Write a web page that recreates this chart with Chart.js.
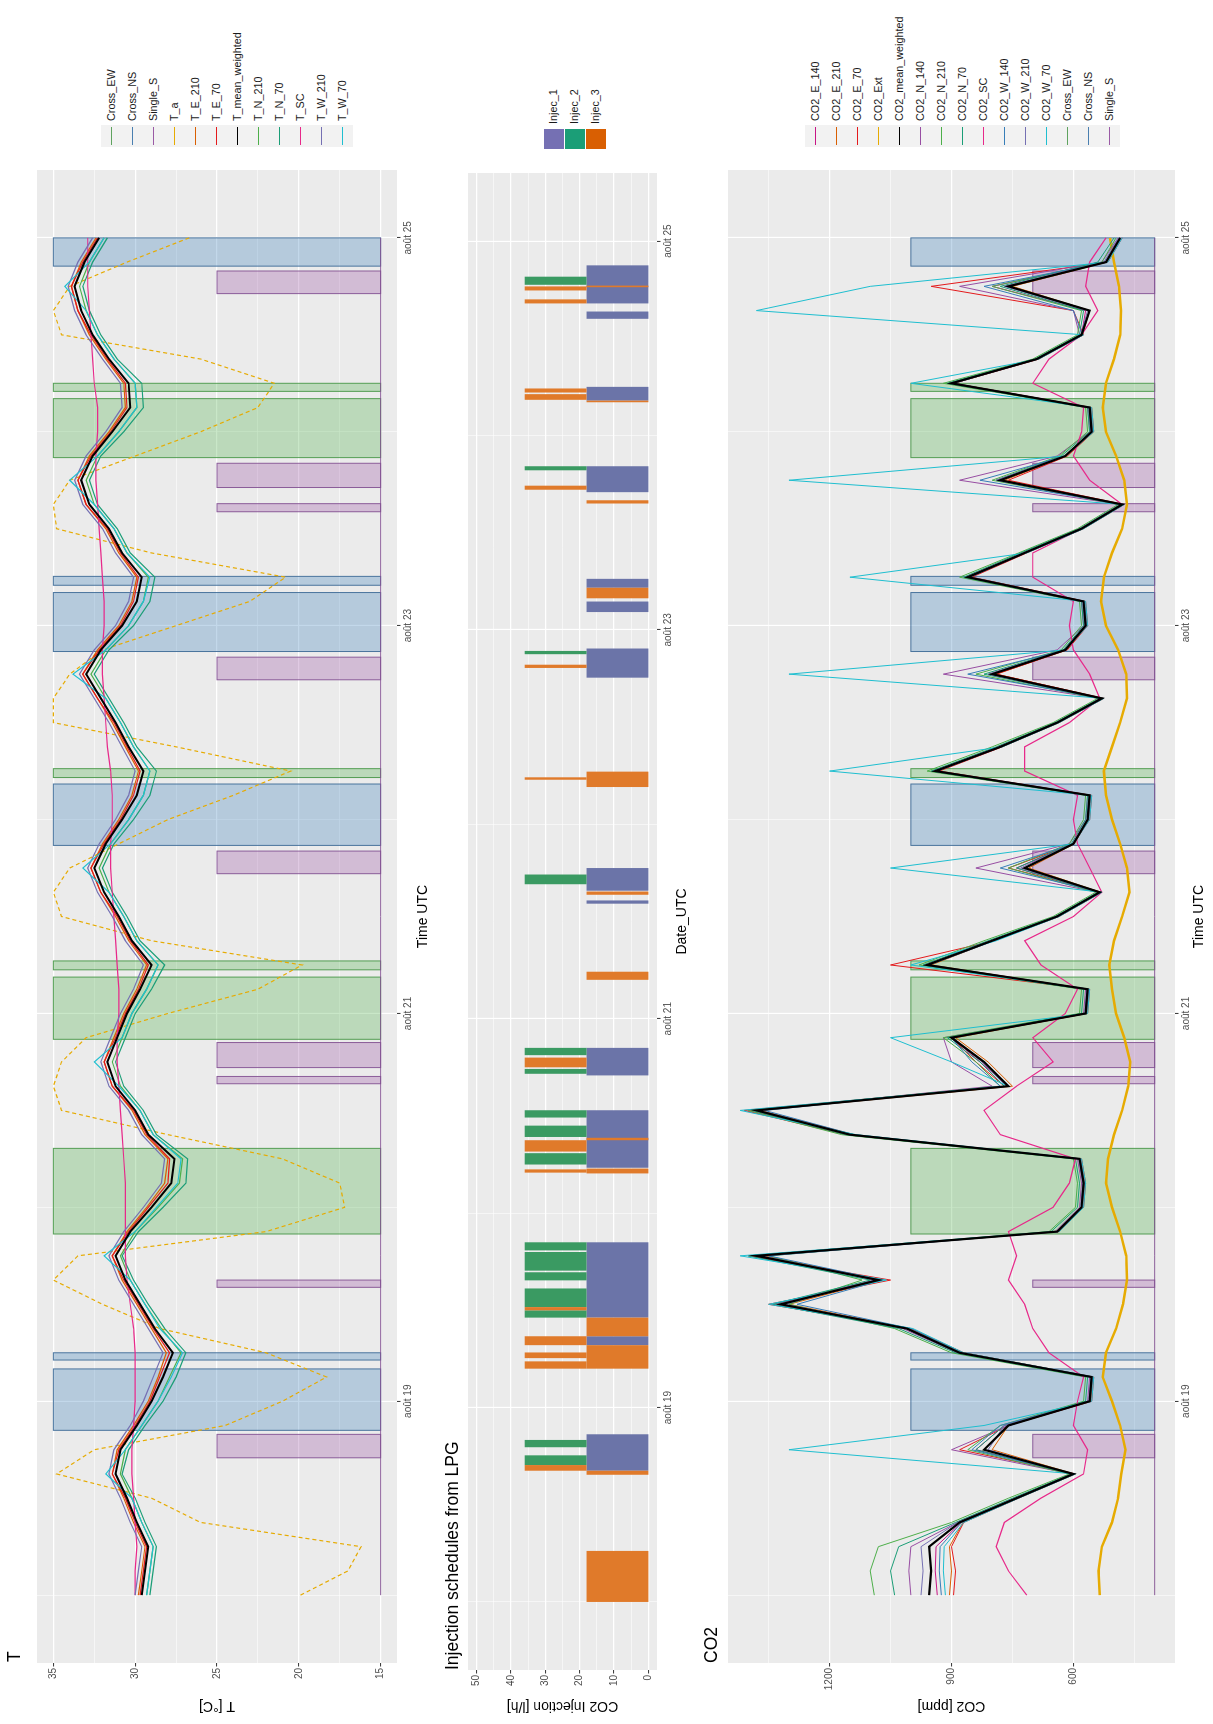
<!DOCTYPE html>
<html>
<head>
<meta charset="utf-8">
<script src="https://cdn.jsdelivr.net/npm/chart.js@4.4.0/dist/chart.umd.min.js"></script>
<style>
  html, body { margin: 0; padding: 0; background: #fff; }
  body { width: 1213px; height: 1724px; overflow: hidden; position: relative; font-family: 'Liberation Sans', Arial, sans-serif; }
  /* the figure is laid out landscape, then turned a quarter left like the reference */
  #sheet { position: absolute; left: 0; top: 0; width: 1724px; height: 1213px; transform-origin: 0 0; transform: translate(0px, 1724px) rotate(-90deg); background: #fff; }
  #sheet canvas { position: absolute; left: 0; }
  .ptitle { position: absolute; font-size: 17.5px; line-height: 1; color: #000; white-space: nowrap; }
  .legend { position: absolute; }
  .lrow { position: relative; height: 21px; }
  .lkey { position: absolute; left: 0; top: 0; width: 22px; height: 21px; background: #f2f2f2; }
  .lkey i { position: absolute; left: 2px; right: 2px; top: 10px; height: 1.4px; }
  .lkey.fill { width: 20px; height: 20px; border: 0.5px solid #fff; }
  .ltxt { position: absolute; left: 26px; top: 0; line-height: 21px; font-size: 10.8px; color: #1a1a1a; white-space: nowrap; }
</style>
</head>
<body>
<div id="sheet">
  <canvas id="cT" width="1560" height="440" style="top:0px"></canvas>
  <canvas id="cInj" width="1560" height="260" style="top:440px"></canvas>
  <canvas id="cCO2" width="1560" height="513" style="top:700px"></canvas>
  <div class="ptitle" style="left:62px; top:6px">T</div>
  <div class="ptitle" style="left:54px; top:444px">Injection schedules from LPG</div>
  <div class="ptitle" style="left:61px; top:703px">CO2</div>
  <div class="legend" id="legT" style="left:1577px; top:101px"></div>
  <div class="legend" id="legInj" style="left:1574px; top:543px"></div>
  <div class="legend" id="legCO2" style="left:1577px; top:805px"></div>
</div>
<script>
// hours since 18 Aug 00:00 UTC
const hours = [0,3,6,9,12,15,18,21,24,27,30,33,36,39,42,45,48,51,54,57,60,63,66,69,72,75,78,81,84,87,90,93,96,99,102,105,108,111,114,117,120,123,126,129,132,135,138,141,144,147,150,153,156,159,162,165,168]
const dateTickHours = [24, 72, 120, 168]
const dateTickLabels = ['août 19', 'août 21', 'août 23', 'août 25']
const dateMinorHours = [0, 48, 96, 144]
const timeMin = -8.4
const timeMax = 176.4

// temperature panel
const T_mean_weighted = [29.6,29.4,29.2,29.9,30.5,31.2,30.9,29.9,29.0,28.3,27.7,28.8,29.7,30.6,31.2,30.3,29.0,27.8,27.6,29.2,30.0,31.2,31.7,31.1,30.5,29.7,29.0,30.2,31.0,31.9,32.5,31.8,30.8,29.9,29.5,30.4,31.2,32.1,33.0,32.1,30.8,29.9,29.6,30.8,31.6,32.8,33.3,32.6,31.4,30.3,30.4,31.6,32.6,33.3,33.7,33.1,32.2]
const T_E_210 = [29.8,29.6,29.4,30.1,30.7,31.4,31.1,30.1,29.2,28.6,28.1,29.0,29.9,30.8,31.4,30.5,29.3,28.2,28.0,29.4,30.2,31.4,31.9,31.3,30.7,29.9,29.3,30.4,31.2,32.1,32.7,32.0,31.0,30.2,29.8,30.6,31.4,32.3,33.2,32.3,31.0,30.2,29.9,31.0,31.8,33.0,33.5,32.8,31.6,30.6,30.7,31.8,32.8,33.5,33.9,33.3,32.4]
const T_E_70 = [29.7,29.5,29.3,30.0,30.6,31.4,31.0,30.0,29.1,28.5,27.9,28.9,29.8,30.7,31.4,30.4,29.2,28.0,27.9,29.3,30.1,31.4,31.9,31.2,30.6,29.8,29.2,30.3,31.1,32.1,32.7,31.9,30.9,30.1,29.7,30.5,31.3,32.3,33.2,32.2,30.9,30.1,29.8,30.9,31.7,33.0,33.5,32.7,31.5,30.5,30.6,31.7,32.7,33.5,33.9,33.2,32.3]
const T_N_210 = [29.3,29.1,28.9,29.6,30.2,30.9,30.6,29.6,28.6,27.9,27.2,28.4,29.4,30.3,30.9,30.0,28.6,27.3,27.1,28.9,29.7,30.9,31.4,30.8,30.2,29.3,28.6,29.9,30.7,31.6,32.2,31.5,30.4,29.5,29.1,30.1,30.9,31.8,32.7,31.8,30.4,29.5,29.2,30.5,31.3,32.5,33.0,32.3,31.0,29.9,30.0,31.3,32.3,33.0,33.4,32.8,31.9]
const T_N_70 = [29.1,28.9,28.7,29.4,30.0,30.8,30.4,29.4,28.3,27.5,26.9,28.2,29.2,30.1,30.8,29.8,28.3,26.9,26.8,28.7,29.5,30.7,31.2,30.6,30.0,29.0,28.2,29.7,30.5,31.4,32.0,31.3,30.1,29.1,28.7,29.9,30.7,31.6,32.5,31.6,30.1,29.1,28.8,30.3,31.1,32.3,32.8,32.1,30.7,29.5,29.6,31.1,32.1,32.8,33.2,32.6,31.7]
const T_W_210 = [30.0,29.8,29.6,30.3,30.9,31.6,31.3,30.3,29.5,28.9,28.3,29.2,30.1,31.0,31.6,30.7,29.5,28.4,28.2,29.6,30.4,31.6,32.1,31.5,30.9,30.1,29.5,30.6,31.4,32.3,32.9,32.2,31.2,30.4,30.0,30.8,31.6,32.5,33.4,32.5,31.2,30.4,30.1,31.2,32.0,33.2,33.7,33.0,31.8,30.8,30.9,32.0,33.0,33.7,34.1,33.5,32.6]
const T_W_70 = [29.3,29.1,28.9,29.6,30.2,31.8,30.6,29.6,28.6,27.8,27.1,28.5,29.4,30.3,31.9,30.0,28.7,27.4,27.2,28.9,29.7,31.0,32.5,30.8,30.2,29.3,28.6,29.9,30.7,31.6,33.2,31.5,30.4,29.5,29.1,30.1,30.9,31.8,33.8,31.8,30.4,29.5,29.1,30.5,31.3,32.5,34.0,32.3,31.0,29.9,30.0,31.3,32.3,33.0,34.3,32.8,31.9]
const T_SC = [30.0,30.0,29.9,30.0,30.1,30.2,30.2,30.1,30.0,30.0,30.0,30.1,30.3,30.5,30.6,30.6,30.6,30.6,30.7,30.8,30.9,31.0,31.1,31.1,31.0,31.0,31.1,31.2,31.3,31.4,31.5,31.5,31.4,31.4,31.5,31.7,31.8,31.9,32.0,32.0,31.9,31.9,32.0,32.1,32.2,32.3,32.4,32.4,32.3,32.3,32.5,32.6,32.7,32.8,32.9,32.9,32.9]
const T_a = [19.9,17.0,16.2,26.0,29.0,34.8,32.5,24.5,21.0,18.3,22.0,28.5,32.0,35.0,33.5,22.0,17.2,17.5,21.0,28.0,34.5,35.0,34.5,33.0,28.0,22.5,19.8,29.0,34.5,35.0,34.0,31.0,28.0,24.0,20.5,27.5,35.0,35.0,34.0,32.0,27.5,23.0,20.8,29.0,34.8,35.0,34.0,30.0,26.0,22.5,21.5,26.0,34.5,35.0,34.0,30.5,26.7]
const tTicks = [15, 20, 25, 30, 35]
const tMinor = [17.5, 22.5, 27.5, 32.5]

// CO2 panel
const CO2_mean_weighted = [955,950,955,880,740,600,820,760,560,555,880,1010,1320,1080,1380,640,580,575,585,1150,1380,760,820,900,570,565,960,800,640,535,720,600,565,560,940,780,640,530,800,620,570,575,860,720,580,480,780,620,555,560,900,690,580,560,760,520,485]
const CO2_E_140 = [935,940,938,876,740,600,840,770,560,555,878,1008,1340,1078,1390,640,580,575,585,1150,1400,760,830,900,570,565,960,800,640,535,740,600,565,560,940,780,640,530,800,620,570,575,860,720,580,480,790,620,555,560,900,690,580,570,800,520,485]
const CO2_E_210 = [905,900,905,872,738,598,800,760,558,553,872,1005,1300,1075,1360,638,578,573,583,1140,1370,750,810,890,568,563,950,798,638,533,710,598,563,558,935,778,638,528,790,618,568,573,855,718,578,478,770,618,553,558,895,688,578,560,750,518,483]
const CO2_E_70 = [895,890,900,870,735,595,880,760,555,550,870,1000,1350,1050,1400,635,575,570,580,1160,1410,770,840,900,565,560,1050,795,635,530,760,600,560,555,930,775,635,525,790,615,565,570,850,715,575,475,760,615,550,555,895,685,575,600,950,515,480]
const CO2_Ext = [535,538,530,505,490,482,472,485,505,528,520,495,478,468,470,485,505,520,515,500,480,465,460,475,495,505,512,500,480,462,468,485,505,520,525,505,485,468,470,490,520,532,525,505,480,468,475,495,520,528,520,500,485,483,488,500,510]
const CO2_N_140 = [1000,1005,1000,885,745,605,900,760,565,560,885,1020,1330,1090,1370,645,585,580,590,1150,1380,800,900,920,575,570,965,805,640,540,840,610,570,565,945,785,640,535,920,640,575,580,865,725,585,485,880,640,560,565,905,690,585,600,880,530,490]
const CO2_N_210 = [1090,1100,1080,900,760,610,860,780,575,570,900,1040,1300,1120,1350,660,595,590,600,1170,1400,780,840,920,585,580,980,820,650,545,760,610,575,570,960,800,650,540,840,630,580,585,880,735,590,490,800,635,565,570,920,700,590,580,800,530,495]
const CO2_N_70 = [1040,1050,1030,890,750,605,840,770,570,565,890,1030,1340,1100,1400,655,590,585,595,1160,1390,770,830,910,580,575,970,810,645,540,740,605,570,565,950,790,645,535,820,625,575,580,870,730,585,485,790,630,560,565,910,695,585,575,780,540,500]
const CO2_SC = [715,760,790,770,680,575,565,600,590,575,660,700,720,760,740,760,650,610,595,780,820,740,650,700,620,590,680,720,600,530,560,590,600,590,720,720,610,535,560,600,610,600,700,700,580,480,560,600,580,575,700,660,580,540,570,560,520]
const CO2_W_140 = [925,930,928,875,738,598,850,780,560,552,875,1000,1280,1070,1350,640,578,573,583,1140,1360,780,850,900,568,562,955,795,638,533,780,600,563,558,935,778,638,528,860,620,568,573,855,718,578,478,830,620,553,558,895,688,578,600,820,518,482]
const CO2_W_210 = [975,970,975,885,742,602,810,770,562,557,882,1012,1310,1085,1370,642,582,577,587,1145,1375,765,825,900,572,567,962,802,642,537,730,602,567,562,942,782,642,532,810,622,572,577,862,722,582,482,790,622,557,562,902,692,582,565,770,525,488]
const CO2_W_70 = [915,920,918,870,735,595,1300,820,555,550,870,995,1350,1060,1420,635,575,570,580,1135,1420,760,900,1050,565,560,1000,790,635,530,1050,600,560,555,1200,775,635,525,1300,620,565,570,1150,715,575,475,1300,620,550,555,1000,685,575,1380,1100,515,480]
const co2Ticks = [600, 900, 1200]
const co2Minor = [450, 750, 1050, 1350]

// treatment periods (start hour, end hour)
const crossEW = [[44.7,55.3],[68.8,76.5],[77.4,78.5],[101.2,102.3],[140.8,148.1],[149.0,150.0]]
const crossNS = [[20.4,28.0],[29.1,30.0],[92.8,100.4],[116.8,124.1],[125.0,126.1],[164.5,168.0]]
const singleS = [[17.0,19.9],[38.1,39.0],[63.3,64.2],[65.3,68.4],[89.3,92.1],[113.3,116.1],[134.1,135.1],[137.1,140.1],[161.1,163.9]]
// base, Cross top, Single top
const tRectLevels = [15, 35, 25]
const co2RectLevels = [400, 1000, 700]

// injection schedules (start hour, end hour[, base])
const injecRate = 18
const injec1 = [[16.2,20.7],[31.7,32.8],[35.1,44.4],[53.6,60.7],[65.0,68.4],[86.2,86.6],[87.8,90.6],[114.1,117.7],[122.2,123.5],[125.2,126.3],[137.0,140.2],[148.3,150.0],[158.4,159.3],[160.3,165.0]]
const injec2 = [[19.1,20.0],[16.9,18.1],[43.4,44.4],[40.9,43.2],[39.7,40.7],[36.4,38.7],[35.1,36.0],[59.8,60.7],[57.4,58.8],[54.0,55.4],[67.5,68.4],[65.2,65.8],[88.6,89.8],[117.0,117.4],[139.7,140.2],[162.6,163.6]]
const injec3 = [[0,6.3,0],[15.7,16.2,0],[16.2,16.9,18],[36.0,36.4,18],[32.8,35.1,0],[28.8,31.7,0],[31.7,32.8,18],[30.1,30.8,18],[28.8,29.7,18],[57.0,57.3,0],[55.6,57.0,18],[52.9,53.5,0],[53.0,53.4,18],[66.0,67.2,18],[76.8,77.8,0],[87.3,87.7,0],[100.6,102.5,0],[101.5,101.8,18],[115.3,115.7,18],[123.9,125.2,0],[135.6,136.0,0],[137.3,137.8,18],[149.3,149.8,18],[148.4,149.1,18],[148.1,148.3,0],[162.3,162.5,0],[161.9,162.4,18],[160.3,160.8,18]]
const injTicks = [0, 10, 20, 30, 40, 50]
const injMinor = [5, 15, 25, 35, 45]

const FONT = "'Liberation Sans', Arial, Helvetica, sans-serif"

const periodColors = {
    cross_ew: ['rgba(77,175,74,0.3)', 'rgba(70,150,70,0.9)'],
    cross_ns: ['rgba(55,126,184,0.3)', 'rgba(60,105,150,0.9)'],
    single_s: ['rgba(152,78,163,0.3)', 'rgba(130,80,145,0.9)']
}
const injColors = ['#6b74a8', '#3a9a62', '#e07a2a']

const panelBg = {
    id: 'panelBg',
    beforeDraw(chart) {
        const { ctx, chartArea: a } = chart
        ctx.save()
        ctx.fillStyle = '#ebebeb'
        ctx.fillRect(a.left, a.top, a.width, a.height)
        ctx.restore()
    }
}

const rectLayer = items => ({
    id: 'rectLayer',
    beforeDatasetsDraw(chart) {
        const { ctx, chartArea: a } = chart
        const x = chart.scales.x
        const y = chart.scales.y
        ctx.save()
        ctx.beginPath()
        ctx.rect(a.left, a.top, a.width, a.height)
        ctx.clip()
        items.forEach(r => {
            const x0 = x.getPixelForValue(r.x0)
            const x1 = x.getPixelForValue(r.x1)
            const y0 = y.getPixelForValue(r.y0)
            const y1 = y.getPixelForValue(r.y1)
            ctx.fillStyle = r.fill
            ctx.fillRect(x0, y1, x1 - x0, y0 - y1)
            if (r.stroke) {
                ctx.strokeStyle = r.stroke
                ctx.lineWidth = 1
                ctx.strokeRect(x0, y1, x1 - x0, y0 - y1)
            }
        })
        ctx.restore()
    }
})

const periodRects = levels => {
    const [base, crossTop, singleTop] = levels
    const out = []
    crossEW.forEach(([s, e]) => out.push({ x0: s, x1: e, y0: base, y1: crossTop, fill: periodColors.cross_ew[0], stroke: periodColors.cross_ew[1] }))
    crossNS.forEach(([s, e]) => out.push({ x0: s, x1: e, y0: base, y1: crossTop, fill: periodColors.cross_ns[0], stroke: periodColors.cross_ns[1] }))
    singleS.forEach(([s, e]) => out.push({ x0: s, x1: e, y0: base, y1: singleTop, fill: periodColors.single_s[0], stroke: periodColors.single_s[1] }))
    return out
}

const injRects = []
injec1.forEach(([s, e]) => injRects.push({ x0: s, x1: e, y0: 0, y1: injecRate, fill: injColors[0] }))
injec2.forEach(([s, e]) => injRects.push({ x0: s, x1: e, y0: injecRate, y1: injecRate * 2, fill: injColors[1] }))
injec3.forEach(([s, e, b]) => injRects.push({ x0: s, x1: e, y0: b, y1: b + injecRate, fill: injColors[2] }))

const line = (label, vals, color, width, dash) => ({
    label: label,
    data: hours.map((h, i) => ({ x: h, y: vals[i] })),
    borderColor: color,
    borderWidth: width,
    borderDash: dash || [],
    pointRadius: 0,
    fill: false,
    tension: 0
})

const baseline = level => ({
    label: 'Single_S',
    data: [{ x: hours[0], y: level }, { x: hours[hours.length - 1], y: level }],
    borderColor: periodColors.single_s[1],
    borderWidth: 1,
    pointRadius: 0,
    fill: false
})

const axisStyle = (major, minor, labelFn) => ({
    afterBuildTicks: ax => {
        ax.ticks = major.concat(minor).sort((a, b) => a - b).map(v => ({ value: v }))
    },
    ticks: {
        autoSkip: false,
        maxRotation: 0,
        color: '#4d4d4d',
        padding: 1.5,
        font: { family: FONT, size: 10 },
        callback: v => (major.includes(v) ? labelFn(v) : '')
    },
    grid: {
        color: '#ffffff',
        lineWidth: c => (c.tick && major.includes(c.tick.value) ? 1.15 : 0.55),
        drawTicks: true,
        tickLength: 3.5,
        tickWidth: 1,
        tickColor: c => (c.tick && major.includes(c.tick.value) ? '#333333' : 'rgba(0,0,0,0)')
    },
    border: { display: false }
})

const yAxis = (min, max, major, minor, title, width) =>
    Object.assign(axisStyle(major, minor, v => String(v)), {
        type: 'linear',
        position: 'left',
        min: min,
        max: max,
        title: { display: true, text: title, color: '#000', font: { family: FONT, size: 14 }, padding: { top: 9.6, bottom: 0 } },
        afterFit: ax => { ax.width = width }
    })

const xAxis = (title, height, padBottom) =>
    Object.assign(axisStyle(dateTickHours, dateMinorHours, v => dateTickLabels[dateTickHours.indexOf(v)]), {
        type: 'linear',
        position: 'bottom',
        min: timeMin,
        max: timeMax,
        title: { display: true, text: title, color: '#000', font: { family: FONT, size: 14 }, padding: { top: 0, bottom: padBottom } },
        afterFit: ax => { ax.height = height }
    })

const makeChart = (id, datasets, rects, x, y, padding) =>
    new Chart(document.getElementById(id), {
        type: 'line',
        data: { datasets: datasets },
        options: {
            responsive: false,
            animation: false,
            devicePixelRatio: 1,
            events: [],
            layout: { padding: padding },
            plugins: { legend: { display: false }, tooltip: { enabled: false } },
            scales: { x: x, y: y }
        },
        plugins: [panelBg, rectLayer(rects)]
    })

// T panel (first dataset is drawn on top)
makeChart('cT', [
    line('T_mean_weighted', T_mean_weighted, '#000000', 2),
    line('T_W_70', T_W_70, '#1fbfd0', 1.2),
    line('T_W_210', T_W_210, '#7570b3', 1.2),
    line('T_SC', T_SC, '#e7298a', 1.2),
    line('T_N_70', T_N_70, '#1b9e77', 1.2),
    line('T_N_210', T_N_210, '#4daf4a', 1.2),
    line('T_E_70', T_E_70, '#e41a1c', 1.2),
    line('T_E_210', T_E_210, '#d95f02', 1.2),
    line('T_a', T_a, '#e6ab02', 1.2, [4, 3]),
    baseline(tRectLevels[0])
], periodRects(tRectLevels),
   xAxis('Time UTC', 43, 8.6),
   yAxis(14, 36, tTicks, tMinor, 'T [°C]', 61),
   { top: 37, right: 6, left: 0, bottom: 0 })

// injection panel
makeChart('cInj', [], injRects,
   xAxis('Date_UTC', 43, 9.6),
   yAxis(-2.5, 52.5, injTicks, injMinor, 'CO2 Injection [l/h]', 54),
   { top: 28, right: 9, left: 0, bottom: 0 })

// CO2 panel
makeChart('cCO2', [
    line('CO2_mean_weighted', CO2_mean_weighted, '#000000', 2.2),
    line('CO2_W_70', CO2_W_70, '#1fbfd0', 1),
    line('CO2_W_210', CO2_W_210, '#7570b3', 1),
    line('CO2_W_140', CO2_W_140, '#377eb8', 1),
    line('CO2_SC', CO2_SC, '#e7298a', 1.2),
    line('CO2_N_70', CO2_N_70, '#1b9e77', 1),
    line('CO2_N_210', CO2_N_210, '#4daf4a', 1),
    line('CO2_N_140', CO2_N_140, '#984ea3', 1),
    line('CO2_Ext', CO2_Ext, '#e6ab02', 2.5),
    line('CO2_E_70', CO2_E_70, '#e41a1c', 1),
    line('CO2_E_210', CO2_E_210, '#d95f02', 1),
    line('CO2_E_140', CO2_E_140, '#c71585', 1),
    baseline(co2RectLevels[0])
], periodRects(co2RectLevels),
   xAxis('Time UTC', 38, 5.6),
   yAxis(350, 1450, co2Ticks, co2Minor, 'CO2 [ppm]', 61),
   { top: 28, right: 6, left: 0, bottom: 0 })

// legends
const tLegendLabels = ['Cross_EW', 'Cross_NS', 'Single_S', 'T_a', 'T_E_210', 'T_E_70', 'T_mean_weighted', 'T_N_210', 'T_N_70', 'T_SC', 'T_W_210', 'T_W_70']
const tLegendColors = ['#5fa35f', '#4a7fb0', '#9a5aa5', '#e6ab02', '#d95f02', '#e41a1c', '#000000', '#4daf4a', '#1b9e77', '#e7298a', '#7570b3', '#1fbfd0']
const injLegendLabels = ['Injec_1', 'Injec_2', 'Injec_3']
const injLegendColors = ['#7570b3', '#1b9e77', '#d95f02']
const co2LegendLabels = ['CO2_E_140', 'CO2_E_210', 'CO2_E_70', 'CO2_Ext', 'CO2_mean_weighted', 'CO2_N_140', 'CO2_N_210', 'CO2_N_70', 'CO2_SC', 'CO2_W_140', 'CO2_W_210', 'CO2_W_70', 'Cross_EW', 'Cross_NS', 'Single_S']
const co2LegendColors = ['#c71585', '#d95f02', '#e41a1c', '#e6ab02', '#000000', '#984ea3', '#4daf4a', '#1b9e77', '#e7298a', '#377eb8', '#7570b3', '#1fbfd0', '#5fa35f', '#4a7fb0', '#9a5aa5']

const addLegend = (id, labels, colors, filled) => {
    const box = document.getElementById(id)
    labels.forEach((label, i) => {
        const row = document.createElement('div')
        row.className = 'lrow'
        const key = document.createElement('div')
        key.className = filled ? 'lkey fill' : 'lkey'
        if (filled) {
            key.style.background = colors[i]
        } else {
            const stroke = document.createElement('i')
            stroke.style.background = colors[i]
            key.appendChild(stroke)
        }
        const txt = document.createElement('div')
        txt.className = 'ltxt'
        txt.innerText = label
        row.appendChild(key)
        row.appendChild(txt)
        box.appendChild(row)
    })
}
addLegend('legT', tLegendLabels, tLegendColors, false)
addLegend('legInj', injLegendLabels, injLegendColors, true)
addLegend('legCO2', co2LegendLabels, co2LegendColors, false)
</script>
</body>
</html>
